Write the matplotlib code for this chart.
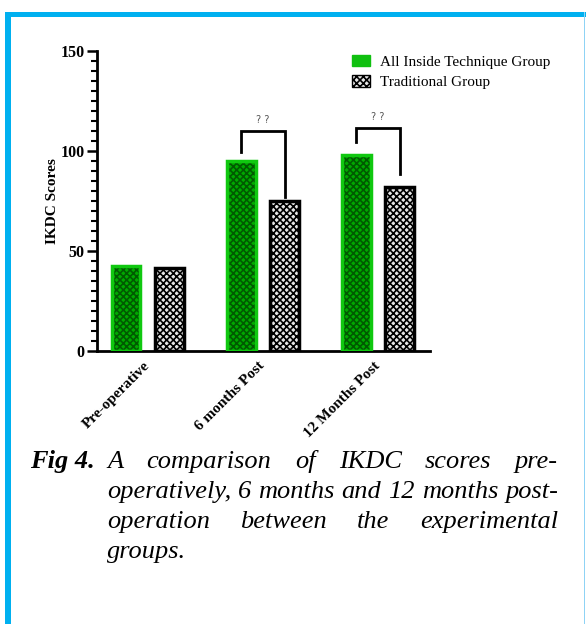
import matplotlib
matplotlib.use("Agg")
import matplotlib.pyplot as plt
from matplotlib.patches import Rectangle, Patch
from matplotlib.ticker import MultipleLocator
import numpy as np

# ---- data ----
categories = ["Pre-operative", "6 months Post", "12 Months Post"]
series_names = ["All Inside Technique Group", "Traditional Group"]
all_inside = [42.5, 95, 98]
traditional = [41.5, 75, 82]
# significance brackets (for 6 months and 12 months groups)
bracket_cats = [1, 2]
bracket_left = [99.5, 104.5]
bracket_top = [110, 111.5]
bracket_right = [77, 88.5]
bracket_text = ["? ?", "? ?"]
yticks = [0, 50, 100, 150]
caption_lines = [
    ["A", "comparison", "of", "IKDC", "scores", "pre-"],
    ["operatively,", "6", "months", "and", "12", "months", "post-"],
    ["operation", "between", "the", "experimental"],
    ["groups."],
]

W, H = 586, 624
plt.rcParams["font.family"] = ["Liberation Serif", "DejaVu Serif"]
plt.rcParams["hatch.linewidth"] = 1.2

fig = plt.figure(figsize=(W / 100, H / 100), dpi=100)

def fx(px):
    return px / W

def fy(py):
    return 1 - py / H

# blue frame
blue = "#00b0f0"
fig.patches.append(Rectangle((fx(5), 0), fx(6), fy(12), transform=fig.transFigure,
                             facecolor=blue, edgecolor="none", zorder=0))
fig.patches.append(Rectangle((fx(5), fy(17)), 1 - fx(5), fy(12) - fy(17), transform=fig.transFigure,
                             facecolor=blue, edgecolor="none", zorder=0))
fig.patches.append(Rectangle((fx(584), 0), fx(1.2), fy(12), transform=fig.transFigure,
                             facecolor="#8fd3f5", edgecolor="none", zorder=0))

# axes
ax_left, ax_right, ax_top, ax_bot = 97, 430, 51, 351
ax = fig.add_axes([fx(ax_left), fy(ax_bot), fx(ax_right - ax_left), fy(ax_top) - fy(ax_bot)])
ax.set_facecolor("none")
ax.set_ylim(0, 150)
ax.set_xlim(-0.443, 2.452)

x = np.arange(len(categories))
bw = 0.25
off = 0.19

green_face = "#00a800"
green_hatch = "#005a00"
green_edge = "#10c810"

# green bars: hatched fill then outline
ax.bar(x - off, all_inside, bw, facecolor=green_face, edgecolor=green_hatch,
       hatch="xxxxx", linewidth=0, zorder=2)
ax.bar(x - off, all_inside, bw, fill=False, edgecolor=green_edge, linewidth=2.5, zorder=3)
# black bars
ax.bar(x + off, traditional, bw, facecolor="#e6e6e6", edgecolor="black",
       hatch="xxxxx", linewidth=0, zorder=2)
ax.bar(x + off, traditional, bw, fill=False, edgecolor="black", linewidth=2.5, zorder=3)

# brackets
for c, yl, yt, yr, t in zip(bracket_cats, bracket_left, bracket_top, bracket_right, bracket_text):
    ax.plot([c - off, c - off, c + off, c + off], [yl, yt, yt, yr], color="black",
            lw=2, solid_joinstyle="miter", zorder=4)
    ax.text(c, yt + 3.0, t, ha="center", va="bottom", fontsize=7, color="#555555",
            family="DejaVu Sans")

# spines and ticks
for s in ["top", "right"]:
    ax.spines[s].set_visible(False)
ax.spines["left"].set_linewidth(2)
ax.spines["bottom"].set_linewidth(2)
ax.set_yticks(yticks)
ax.yaxis.set_minor_locator(MultipleLocator(5))
ax.tick_params(axis="y", which="major", length=7, width=1.8, pad=2, labelsize=11.5)
ax.tick_params(axis="y", which="minor", length=4.5, width=1.5)
for lab in ax.get_yticklabels():
    lab.set_fontweight("bold")
ax.set_xticks(x)
ax.set_xticklabels(categories, rotation=45, ha="right", va="center",
                   rotation_mode="anchor", fontsize=11, fontweight="bold")
ax.tick_params(axis="x", length=0, pad=9)
ax.set_ylabel("IKDC Scores", fontsize=11, fontweight="bold")
ax.yaxis.set_label_coords(-0.114, 0.5)

# legend
handles = [
    Patch(facecolor="#10c010", edgecolor="#10c010", label=series_names[0]),
    Patch(facecolor="#e6e6e6", edgecolor="black", hatch="xxxxx", label=series_names[1]),
]
ax.legend(handles=handles, loc="upper left", bbox_to_anchor=(fx(352), fy(55)),
          bbox_transform=fig.transFigure, frameon=False, fontsize=11, borderpad=0,
          borderaxespad=0, handlelength=1.2, handleheight=0.75, handletextpad=0.65,
          labelspacing=0.42)

# caption
cap_size = 19
fig.text(fx(95), fy(468), "Fig 4.", ha="right", va="baseline", fontsize=cap_size,
         fontweight="bold", fontstyle="italic")
cap_left, cap_right = 107, 558
baselines = [468, 498, 528, 558]
renderer = fig.canvas.get_renderer()
for i, (words, by) in enumerate(zip(caption_lines, baselines)):
    texts = [fig.text(0, fy(by), w, ha="left", va="baseline", fontsize=cap_size,
                      fontstyle="italic") for w in words]
    widths = [t.get_window_extent(renderer).width for t in texts]
    justify = i < len(caption_lines) - 1 and len(words) > 1
    if justify:
        gap = (cap_right - cap_left - sum(widths)) / (len(words) - 1)
    else:
        gap = cap_size * 100 / 72 * 0.25
    pos = cap_left
    for t, w in zip(texts, widths):
        t.set_x(fx(pos))
        pos += w + gap

fig.savefig("out.png", dpi=100)
